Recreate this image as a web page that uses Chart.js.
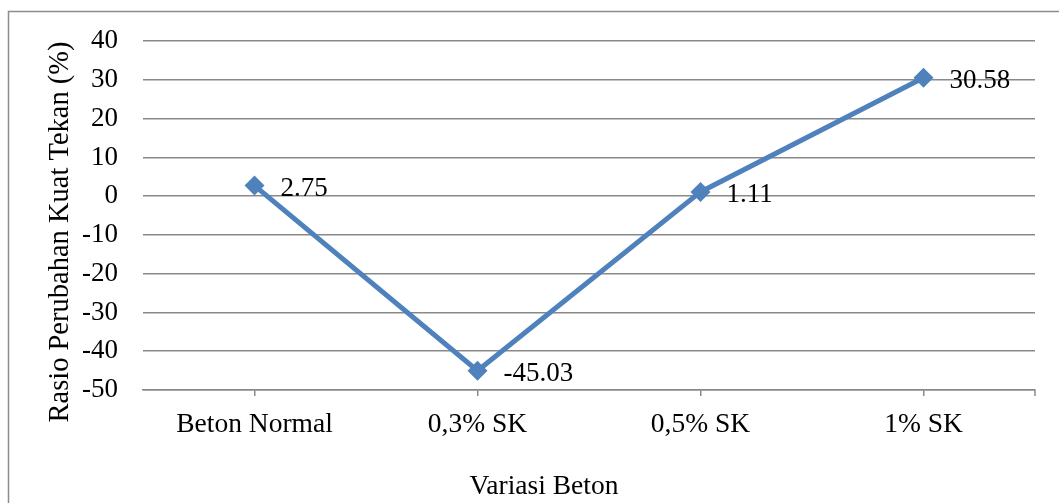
<!DOCTYPE html>
<html>
<head>
<meta charset="utf-8">
<script src="https://cdn.jsdelivr.net/npm/chart.js@4.4.1/dist/chart.umd.min.js"></script>
<style>
  html, body { margin: 0; padding: 0; background: #fff; }
  #wrap { position: relative; width: 1059px; height: 503px; }
  canvas { position: absolute; left: 0; top: 0; }
</style>
</head>
<body>
<div id="wrap"><canvas id="c" width="1059" height="503"></canvas></div>
<script>
const categories = ["Beton Normal", "0,3% SK", "0,5% SK", "1% SK"];
const values = [2.75, -45.03, 1.11, 30.58];
const valueLabels = ["2.75", "-45.03", "1.11", "30.58"];
const yTitle = "Rasio Perubahan Kuat Tekan (%)";
const xTitle = "Variasi Beton";
const yMin = -50, yMax = 40, yStep = 10;

const FONT = "'Liberation Serif', 'Times New Roman', serif";
const GRID = '#898989';

const decor = {
  id: 'decor',
  beforeDraw(chart) {
    const ctx = chart.ctx;
    ctx.save();
    ctx.strokeStyle = '#8c8c8c';
    ctx.lineWidth = 1.5;
    ctx.beginPath();
    ctx.moveTo(8.5, 503);
    ctx.lineTo(8.5, 11.5);
    ctx.lineTo(1059, 11.5);
    ctx.stroke();
    ctx.restore();
  },
  afterDraw(chart) {
    const ctx = chart.ctx;
    const ca = chart.chartArea;
    ctx.save();
    ctx.strokeStyle = GRID;
    ctx.lineWidth = 1.5;
    ctx.beginPath();
    ctx.moveTo(ca.right, ca.bottom);
    ctx.lineTo(ca.right, ca.bottom + 6);
    ctx.stroke();
    ctx.fillStyle = '#000';
    ctx.textAlign = 'center';
    ctx.textBaseline = 'middle';
    ctx.font = "27.5px " + FONT;
    ctx.fillText(xTitle, 544, 487);
    ctx.font = "28.5px " + FONT;
    ctx.translate(61, 232);
    ctx.rotate(-Math.PI / 2);
    ctx.fillText(yTitle, 0, 0);
    ctx.restore();
  },
  afterDatasetsDraw(chart) {
    const ctx = chart.ctx;
    const meta = chart.getDatasetMeta(0);
    ctx.save();
    ctx.fillStyle = '#000';
    ctx.font = "27px " + FONT;
    ctx.textAlign = 'left';
    ctx.textBaseline = 'middle';
    meta.data.forEach((pt, i) => {
      ctx.fillText(valueLabels[i], pt.x + 26, pt.y + 3);
    });
    ctx.restore();
  }
};

new Chart(document.getElementById('c'), {
  type: 'line',
  data: {
    labels: categories,
    datasets: [{
      data: values,
      borderColor: '#4F81BD',
      backgroundColor: '#4F81BD',
      borderWidth: 5,
      pointStyle: 'rectRot',
      pointRadius: 10,
      pointHoverRadius: 10,
      pointBorderWidth: 0,
      tension: 0,
      fill: false
    }]
  },
  options: {
    responsive: false,
    animation: false,
    events: [],
    layout: { padding: { left: 0, right: 24, top: 41, bottom: 0 } },
    plugins: { legend: { display: false }, tooltip: { enabled: false }, title: { display: false } },
    scales: {
      x: {
        type: 'category',
        offset: true,
        afterFit(scale) { scale.height = 113; },
        grid: { display: true, drawOnChartArea: false, offset: false, color: GRID, lineWidth: 1.5, tickLength: 6 },
        border: { display: true, color: GRID, width: 1.5 },
        ticks: { color: '#000', font: { family: FONT, size: 27.5 }, padding: 12, maxRotation: 0, autoSkip: false }
      },
      y: {
        min: yMin, max: yMax,
        afterFit(scale) { scale.width = 143; },
        afterBuildTicks(scale) {
          const t = [];
          for (let v = yMin; v <= yMax; v += yStep) t.push({ value: v });
          scale.ticks = t;
        },
        grid: { color: GRID, lineWidth: 1.5, drawTicks: false },
        border: { display: false },
        ticks: { color: '#000', font: { family: FONT, size: 27 }, padding: 25, stepSize: yStep }
      }
    }
  },
  plugins: [decor]
});
</script>
</body>
</html>
